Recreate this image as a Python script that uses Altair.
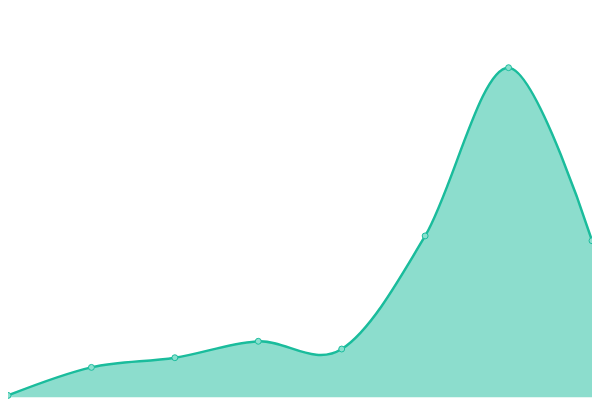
import altair as alt
import pandas as pd

idx = [0, 1, 2, 3, 4, 5, 6, 7]
values = [2, 31, 41, 58, 50, 167, 341, 162]

df = pd.DataFrame({"i": idx, "v": values})

x = alt.X("i:Q", scale=alt.Scale(domain=[0, 7], nice=False, zero=False), axis=None)
y = alt.Y("v:Q", scale=alt.Scale(domain=[0, 400], nice=False), axis=None)

area = alt.Chart(df).mark_area(
    interpolate="cardinal", color="#1abc9c", fillOpacity=0.5,
    line={"color": "#1abc9c", "strokeWidth": 2.5}
).encode(x=x, y=y)

pts = alt.Chart(df).mark_point(
    filled=True, size=36, fill="#8ae0cf", stroke="#1abc9c", strokeWidth=1, opacity=1
).encode(x=x, y=y)

chart = (area + pts).properties(
    width=592, height=392,
    padding=0,
    autosize=alt.AutoSizeParams(type="none"),
).configure_view(stroke=None)

chart.save("out.html", embed_options={"renderer": "svg", "actions": False})
